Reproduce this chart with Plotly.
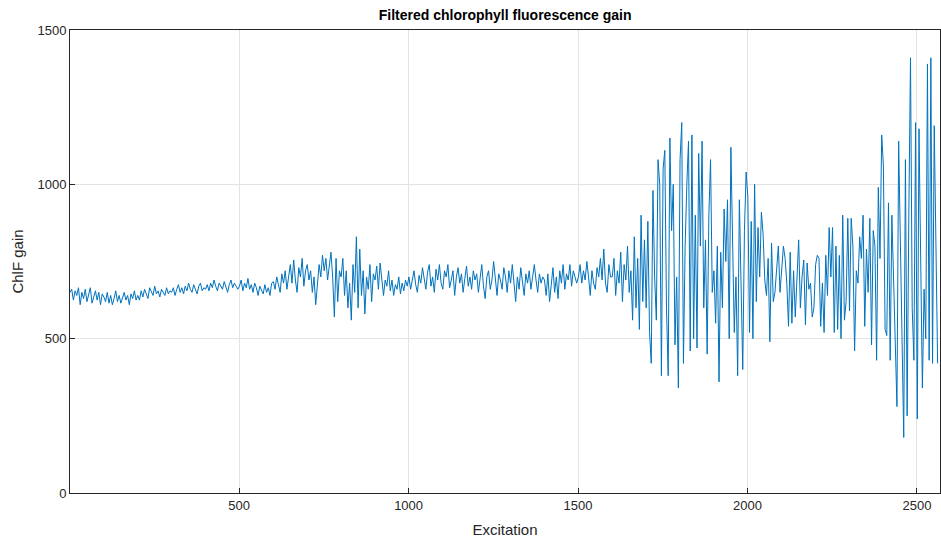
import plotly.graph_objects as go

# Excitation index: first sample and spacing of the (down-sampled) record
excitation_start = 1
excitation_step = 5

# Filtered ChlF gain (one value every 5 excitations)
gain_0000 = [650, 660, 625, 655, 640, 665, 610, 650, 630, 660, 620, 645, 665, 615, 640, 655, 625, 650, 610, 645]
gain_0100 = [635, 620, 650, 615, 640, 610, 630, 655, 620, 640, 615, 635, 650, 625, 640, 610, 645, 630, 655, 625]
gain_0200 = [640, 625, 655, 635, 660, 645, 630, 665, 650, 640, 670, 645, 655, 635, 660, 650, 640, 665, 645, 655]
gain_0300 = [650, 665, 640, 660, 675, 650, 665, 645, 670, 655, 680, 660, 650, 675, 660, 645, 670, 680, 655, 665]
gain_0400 = [660, 675, 655, 680, 665, 690, 670, 655, 680, 670, 660, 685, 670, 650, 675, 690, 665, 680, 670, 660]
gain_0500 = [670, 690, 655, 680, 665, 695, 660, 675, 650, 680, 665, 640, 670, 655, 645, 675, 650, 665, 640, 680]
gain_0600 = [685, 660, 700, 675, 650, 710, 680, 720, 660, 700, 740, 680, 755, 690, 650, 730, 700, 760, 670, 720]
gain_0700 = [740, 690, 720, 650, 700, 610, 680, 740, 700, 770, 720, 760, 690, 745, 780, 700, 570, 760, 620, 720]
gain_0800 = [700, 760, 640, 720, 600, 680, 560, 740, 650, 830, 600, 790, 640, 720, 580, 700, 660, 740, 620, 710]
gain_0900 = [690, 735, 660, 745, 700, 640, 690, 670, 720, 655, 690, 640, 675, 660, 700, 645, 680, 655, 690, 670]
gain_1000 = [700, 660, 690, 720, 675, 650, 705, 680, 730, 690, 660, 715, 740, 670, 700, 650, 725, 690, 740, 680]
gain_1100 = [660, 720, 700, 740, 665, 690, 720, 640, 700, 730, 680, 710, 650, 695, 735, 670, 700, 660, 720, 690]
gain_1200 = [710, 650, 690, 740, 670, 630, 700, 720, 660, 690, 750, 680, 640, 710, 690, 660, 730, 700, 650, 720]
gain_1300 = [680, 740, 690, 620, 700, 660, 730, 690, 640, 710, 680, 720, 660, 700, 740, 690, 650, 710, 680, 700]
gain_1400 = [690, 640, 710, 620, 680, 730, 650, 700, 630, 720, 680, 740, 660, 710, 690, 740, 670, 720, 700, 680]
gain_1500 = [700, 740, 680, 720, 690, 750, 700, 640, 720, 680, 660, 730, 700, 760, 690, 790, 680, 650, 740, 700]
gain_1600 = [700, 760, 640, 720, 680, 780, 620, 740, 690, 800, 650, 720, 560, 830, 600, 760, 530, 900, 620, 820]
gain_1700 = [600, 880, 520, 420, 980, 700, 560, 1080, 1000, 380, 1050, 1110, 600, 380, 1150, 850, 1000, 480, 700, 340]
gain_1800 = [1080, 1200, 420, 800, 1000, 1140, 460, 1160, 500, 900, 470, 1100, 800, 1140, 600, 820, 450, 900, 1080, 650]
gain_1900 = [720, 550, 800, 360, 780, 600, 920, 750, 950, 500, 1120, 800, 520, 700, 380, 950, 600, 400, 850, 1040]
gain_2000 = [960, 520, 880, 500, 1000, 620, 860, 700, 910, 840, 690, 640, 760, 490, 810, 620, 650, 720, 800, 650]
gain_2100 = [720, 800, 760, 680, 540, 780, 550, 720, 570, 700, 820, 600, 700, 755, 545, 745, 660, 680, 570, 600]
gain_2200 = [740, 770, 760, 540, 680, 520, 770, 640, 860, 700, 860, 520, 800, 530, 770, 500, 900, 560, 620, 890]
gain_2300 = [590, 890, 800, 460, 720, 680, 830, 760, 900, 540, 790, 650, 890, 480, 850, 800, 430, 990, 760, 1160]
gain_2400 = [1060, 530, 510, 940, 430, 900, 700, 500, 280, 1140, 860, 500, 180, 1080, 250, 900, 1410, 600, 430, 1200]
gain_2500 = [240, 1180, 700, 340, 660, 500, 1390, 430, 1410, 420, 1190, 730, 420]

gain = (gain_0000 + gain_0100 + gain_0200 + gain_0300 + gain_0400 + gain_0500 + gain_0600
        + gain_0700 + gain_0800 + gain_0900 + gain_1000 + gain_1100 + gain_1200 + gain_1300
        + gain_1400 + gain_1500 + gain_1600 + gain_1700 + gain_1800 + gain_1900 + gain_2000
        + gain_2100 + gain_2200 + gain_2300 + gain_2400 + gain_2500)

x_ticks = [500, 1000, 1500, 2000, 2500]
y_ticks = [0, 500, 1000, 1500]

font_family = "Liberation Sans, Arial, Helvetica, sans-serif"

fig = go.Figure(go.Scatter(
    y=gain, x0=excitation_start, dx=excitation_step, mode="lines",
    line=dict(color="#0072BD", width=1), hoverinfo="skip"))

axis_common = dict(
    showline=True, linecolor="#262626", linewidth=1, mirror=True,
    showgrid=True, gridcolor="#E3E3E3", gridwidth=1,
    ticks="inside", ticklen=5, tickcolor="#262626",
    tickfont=dict(family=font_family, size=13, color="#262626"),
    zeroline=False, automargin=False,
)

fig.update_layout(
    width=941, height=539,
    margin=dict(l=70, r=1, t=30, b=46),
    paper_bgcolor="white", plot_bgcolor="white",
    showlegend=False,
    title=dict(text="<b>Filtered chlorophyll fluorescence gain</b>",
               x=0.5368, xanchor="center", y=0.972, yanchor="middle",
               font=dict(family=font_family, size=14, color="black")),
    xaxis=dict(axis_common, range=[1, 2568], tickvals=x_ticks,
               title=dict(text="Excitation", standoff=12,
                          font=dict(family=font_family, size=15, color="#262626"))),
    yaxis=dict(axis_common, range=[0, 1500], tickvals=y_ticks,
               title=dict(text="ChlF gain", standoff=10,
                          font=dict(family=font_family, size=15, color="#262626"))),
)

fig.write_html("out.html", config={"displayModeBar": False},
               post_script="document.body.style.margin='0';document.body.style.overflow='hidden';")
